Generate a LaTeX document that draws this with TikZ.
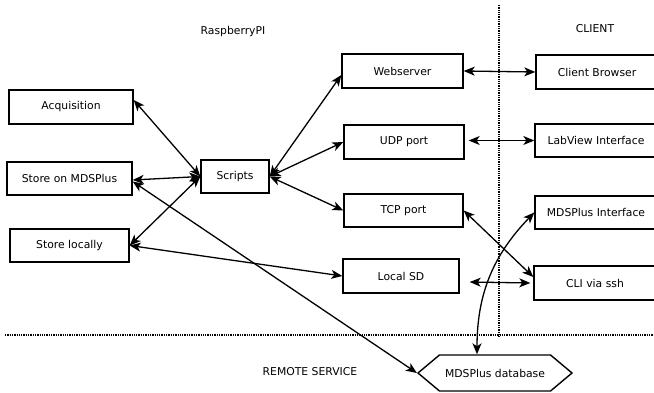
\documentclass[tikz,border=0pt]{standalone}
\usepackage{fontspec}
\setmainfont{DejaVu Sans}
\usepackage{tikz}
\usetikzlibrary{arrows.meta, positioning, calc, shapes.symbols}

\tikzset{
  box/.style={draw, line width=1.4pt, minimum height=34pt, inner sep=0pt,
    font=\fontsize{10.8}{13}\selectfont},
  lbl/.style={font=\fontsize{10.8}{13}\selectfont},
  link/.style={<->, >={Stealth[length=11pt,width=9pt,inset=3pt]}, line width=1.3pt},
  sep/.style={densely dotted, line width=1.3pt}
}

\begin{document}
\begin{tikzpicture}[x=1pt,y=-1pt]
			\useasboundingbox (0,0) rectangle (654,393);
			% separators
			\draw[sep] (499,5) -- (499,337);
			\draw[sep] (5,335) -- (654,335);
			% titles
			\node[lbl] (tpi) at (233,32) {RaspberryPI};
			\node[lbl] (tcl) at (595,29) {CLIENT};
			\node[lbl] (trs) at (310,372) {REMOTE SERVICE};
			% raspberry side
			\node[box, minimum width=124pt] (acq) at (71,107) {Acquisition};
			\node[box, minimum width=125pt, minimum height=33pt] (mds) at (69.5,178.5) {Store on MDSPlus};
			\node[box, minimum width=68pt, minimum height=33pt] (scr) at (235,176.5) {Scripts};
			\node[box, minimum width=119pt, minimum height=33pt] (loc) at (69.5,245.5) {Store locally};
			\node[box, minimum width=121pt] (web) at (402.5,71) {Webserver};
			\node[box, minimum width=120pt] (udp) at (404,142) {UDP port};
			\node[box, minimum width=119pt, minimum height=33pt] (tcp) at (403.5,210.5) {TCP port};
			\node[box, minimum width=116pt] (sd) at (401,276) {Local SD};
			% client side
			\node[box, minimum width=122pt] (brw) at (597,72) {Client Browser};
			\node[box, minimum width=122pt, minimum height=33pt] (lab) at (596,140.5) {LabView Interface};
			\node[box, minimum width=122pt, minimum height=33pt] (mif) at (596,212.5) {MDSPlus Interface};
			\node[box, minimum width=122pt] (cli) at (595,283) {CLI via ssh};
			% remote
			\node[box, signal, signal to=east and west, signal pointer angle=80,
			  minimum width=154pt, minimum height=36pt] (db) at (495,373) {MDSPlus database};
			% links
			\draw[link] ([yshift=7pt]acq.east) -- (scr.west);
			\draw[link] ([yshift=-1.5pt]mds.east) -- (scr.west);
			\draw[link] (loc.east) -- (scr.west);
			\draw[link] ([yshift=-3pt]mds.east) -- (db.west);
			\draw[link] (loc.east) -- (sd.west);
			\draw[link] (scr.east) -- ([yshift=-4pt]web.west);
			\draw[link] (scr.east) -- (udp.west);
			\draw[link] (scr.east) -- (tcp.west);
			\draw[link] (web.east) -- (brw.west);
			\draw[link] ([xshift=4pt,yshift=1.5pt]udp.east) -- (lab.west);
			\draw[link] (tcp.east) -- ([yshift=6pt]cli.west);
			\draw[link] ([shift={(10pt,-6pt)}]sd.east) -- ([xshift=-3pt]cli.west);
			\draw[link] (mif.west) to[bend right=22] ([xshift=-18pt]db.north);
		\end{tikzpicture}
\end{document}
